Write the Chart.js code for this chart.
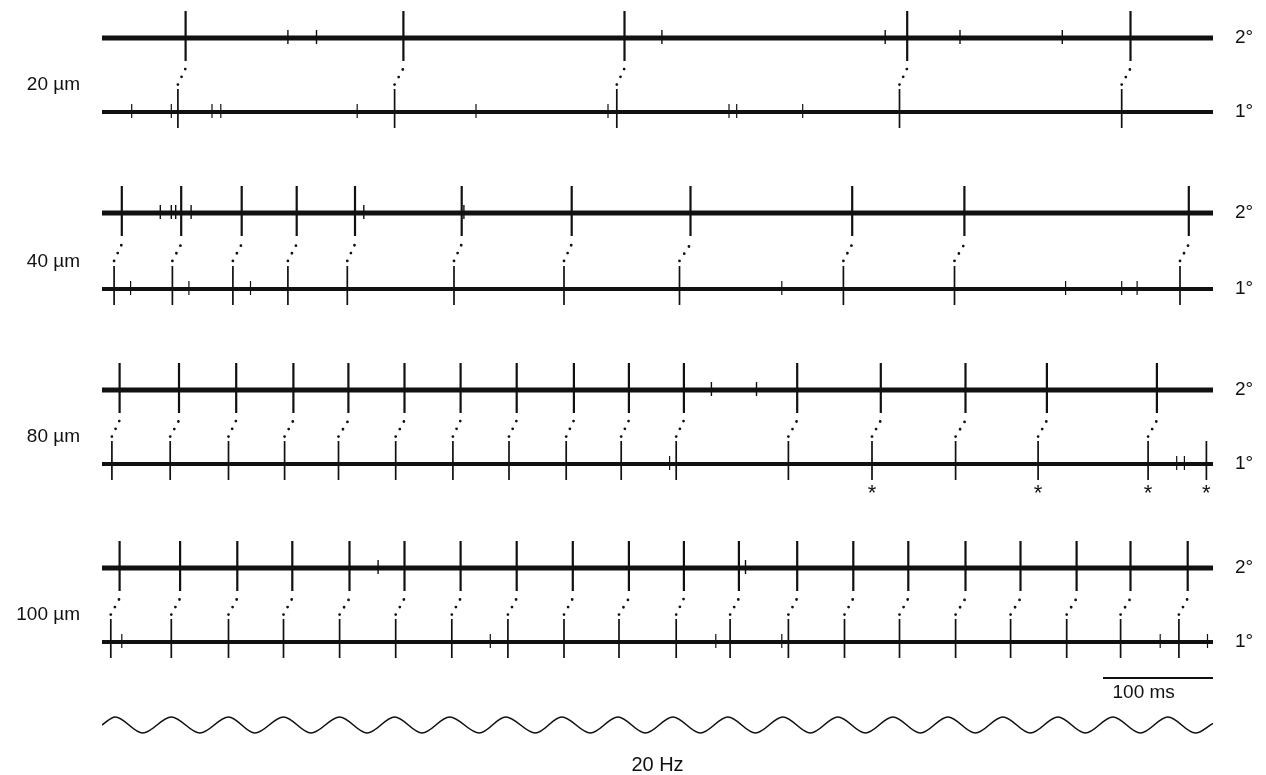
<!DOCTYPE html>
<html>
<head>
<meta charset="utf-8">
<script src="https://cdn.jsdelivr.net/npm/chart.js@4.4.1/dist/chart.umd.min.js"></script>
<style>
  html, body { margin: 0; padding: 0; background: #fff; }
  #wrap { width: 1266px; height: 775px; position: relative; }
</style>
</head>
<body>
<div id="wrap"><canvas id="traces"></canvas></div>
<script>
// spike times in ms (sweep runs 0..1010 ms)
const depthLabels = ['20 µm', '40 µm', '80 µm', '100 µm'];

// 20 µm
const sec20 = [76, 274, 475, 732, 935];
const pri20 = [69, 266, 468, 725, 927];
const sec20small = [169, 195, 509, 712, 780, 873];
const pri20small = [27, 63, 100, 108, 232, 340, 460, 570, 577, 637];

// 40 µm
const sec40 = [18, 72, 127, 177, 230, 327, 427, 535, 682, 784, 988];
const pri40 = [11, 64, 119, 169, 223, 320, 420, 525, 674, 775, 980];
const sec40small = [53, 63, 67, 81, 238, 329];
const pri40small = [26, 79, 135, 618, 876, 927, 941];

// 80 µm
const sec80 = [16, 70, 122, 174, 224, 275, 326, 377, 429, 479, 529, 632, 708, 785, 859, 959];
const pri80 = [9, 62, 115, 166, 215, 267, 319, 370, 422, 472, 522, 624, 700, 776, 851, 951, 1004];
const sec80small = [554, 595];
const pri80small = [516, 977, 984];
const starred80 = [700, 851, 951, 1004];

// 100 µm
const sec100 = [16, 71, 123, 173, 225, 275, 326, 377, 428, 479, 529, 579, 632, 683, 733, 785, 835, 886, 935, 987];
const pri100 = [8, 63, 115, 165, 216, 267, 318, 369, 420, 470, 522, 571, 624, 675, 725, 776, 826, 877, 926, 979];
const sec100small = [251, 585];
const pri100small = [18, 353, 558, 618, 962, 1005];

// 20 Hz stimulus: extrema times (ms) and levels
const stimTimes = [0, 12, 37, 63, 89, 115, 139, 165, 190, 216, 241, 266, 291, 316, 343, 367, 394, 418, 444, 469, 494,
  519, 544, 569, 594, 619, 644, 669, 694, 719, 744, 769, 794, 819, 844, 869, 894, 919, 944, 969, 994, 1010];
const stimLevels = [0, 1, -1, 1, -1, 1, -1, 1, -1, 1, -1, 1, -1, 1, -1, 1, -1, 1, -1, 1, -1,
  1, -1, 1, -1, 1, -1, 1, -1, 1, -1, 1, -1, 1, -1, 1, -1, 1, -1, 1, -1, 0.2];

const scaleBar = [910, 1010];   // 100 ms
const sweepEnd = 1010;

// layout (y values are in canvas rows, top = 0)
const secBase = [38, 213, 390, 568];
const priBase = [112, 289, 464, 642];
const stimBase = 725, stimAmp = 8;
const barY = 678;

const rows = [
  { sec: sec20, pri: pri20, secSmall: sec20small, priSmall: pri20small },
  { sec: sec40, pri: pri40, secSmall: sec40small, priSmall: pri40small },
  { sec: sec80, pri: pri80, secSmall: sec80small, priSmall: pri80small },
  { sec: sec100, pri: pri100, secSmall: sec100small, priSmall: pri100small }
];

const ink = '#111';
const font = '"Liberation Sans", Arial, sans-serif';

function spikes(times, base, up, down) {
  const pts = [];
  times.forEach(t => {
    pts.push({ x: t, y: base - up }, { x: t, y: base + down }, { x: t, y: null });
  });
  return pts;
}

function lineSet(data, width, extra) {
  return Object.assign({
    data: data, borderColor: ink, borderWidth: width, pointRadius: 0,
    tension: 0, spanGaps: false, fill: false
  }, extra || {});
}

const datasets = [];
rows.forEach((r, i) => {
  const y2 = secBase[i], y1 = priBase[i], gap = y1 - y2;
  // baselines (noisy band)
  datasets.push(lineSet([{ x: 0, y: y2 }, { x: sweepEnd, y: y2 }], 5));
  datasets.push(lineSet([{ x: 0, y: y1 }, { x: sweepEnd, y: y1 }], 4));
  // spikes
  datasets.push(lineSet(spikes(r.sec, y2, 27, 23), 2.2));
  datasets.push(lineSet(spikes(r.pri, y1, 23, 16), 1.7));
  datasets.push(lineSet(spikes(r.secSmall, y2, 8, 6), 1.4));
  datasets.push(lineSet(spikes(r.priSmall, y1, 8, 6), 1.2));
  // dotted connectors 1° -> 2°
  const conn = [];
  r.sec.forEach((t2, k) => {
    conn.push({ x: r.pri[k], y: y1 - 0.37 * gap }, { x: t2, y: y2 + 0.41 * gap }, { x: t2, y: null });
  });
  datasets.push(lineSet(conn, 2.8, { borderDash: [0, 8.6], borderCapStyle: 'round' }));
});

// stimulus sine
datasets.push(lineSet(stimTimes.map((t, k) => ({ x: t, y: stimBase - stimAmp * stimLevels[k] })), 1.6,
  { cubicInterpolationMode: 'monotone' }));
// scale bar
datasets.push(lineSet(scaleBar.map(t => ({ x: t, y: barY })), 2));

const labelPlugin = {
  id: 'traceLabels',
  afterDatasetsDraw(chart) {
    const { ctx, chartArea, scales: { x, y } } = chart;
    ctx.save();
    ctx.fillStyle = ink;
    ctx.textBaseline = 'middle';
    ctx.font = '19px ' + font;
    rows.forEach((r, i) => {
      const y2 = y.getPixelForValue(secBase[i]);
      const y1 = y.getPixelForValue(priBase[i]);
      ctx.textAlign = 'right';
      ctx.fillText(depthLabels[i], chartArea.left - 22, y1 - 27);
      ctx.textAlign = 'left';
      ctx.fillText('2°', chartArea.right + 22, y2);
      ctx.fillText('1°', chartArea.right + 22, y1);
    });
    // asterisks under 80 µm primary spikes
    ctx.textAlign = 'center';
    ctx.font = '22px ' + font;
    starred80.forEach(t => {
      ctx.fillText('*', x.getPixelForValue(t), y.getPixelForValue(priBase[2] + 30));
    });
    // scale bar and stimulus labels
    ctx.font = '19px ' + font;
    ctx.fillText('100 ms', x.getPixelForValue(947), y.getPixelForValue(barY + 15));
    ctx.font = '20px ' + font;
    ctx.fillText('20 Hz', x.getPixelForValue(505), y.getPixelForValue(stimBase + 40));
    ctx.restore();
  }
};

new Chart(document.getElementById('traces'), {
  type: 'line',
  data: { datasets: datasets },
  options: {
    responsive: true,
    maintainAspectRatio: false,
    animation: false,
    devicePixelRatio: 1,
    layout: { padding: { left: 102, right: 53, top: 0, bottom: 0 } },
    plugins: { legend: { display: false }, tooltip: { enabled: false } },
    scales: {
      x: { type: 'linear', display: false, min: 0, max: sweepEnd },
      y: { type: 'linear', display: false, min: 0, max: 775, reverse: true }
    }
  },
  plugins: [labelPlugin]
});
</script>
</body>
</html>
